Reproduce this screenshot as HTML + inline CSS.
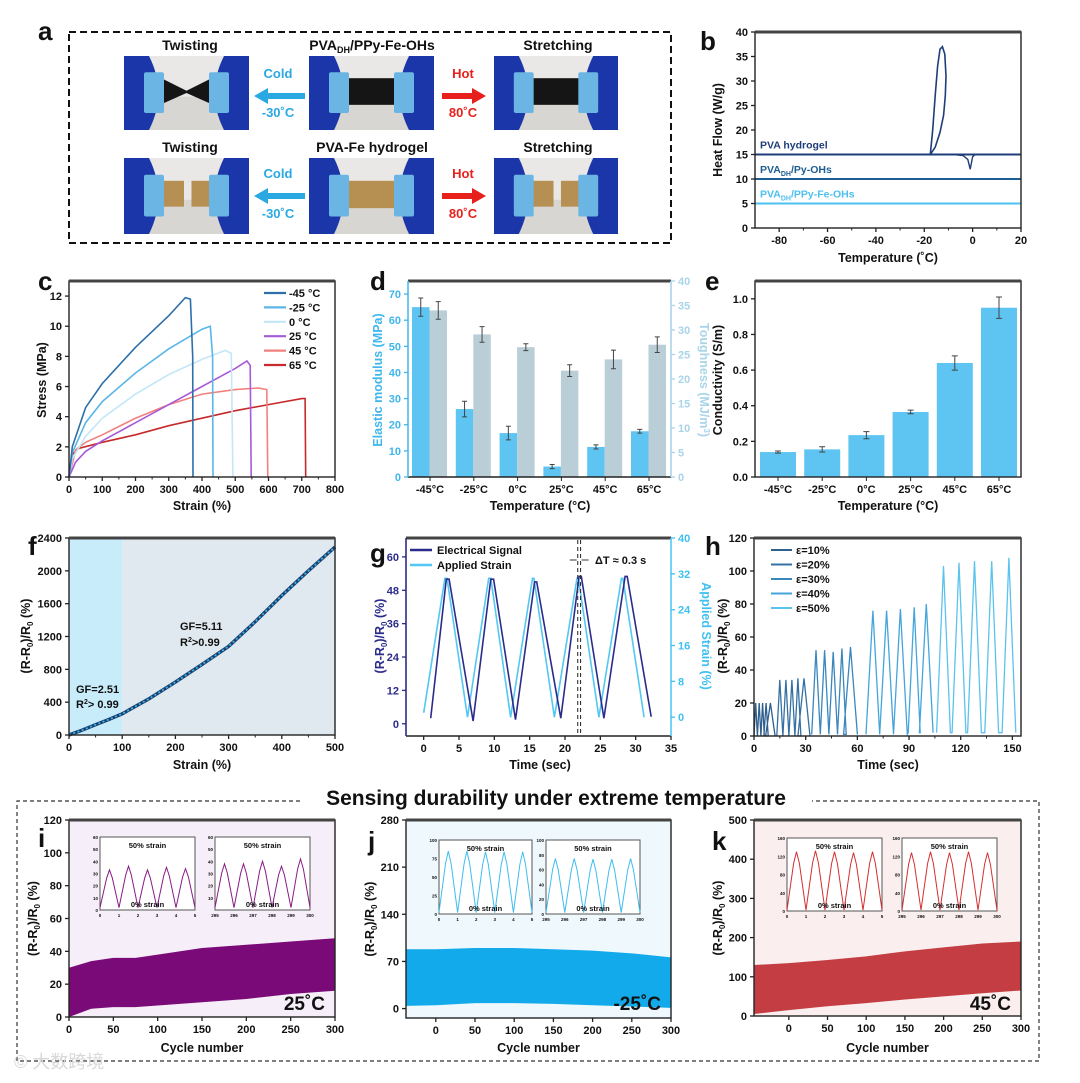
<!DOCTYPE html>
<html><head><meta charset="utf-8"><title>Figure</title>
<style>
html,body{margin:0;padding:0;background:#fff;}
svg{display:block;font-family:"Liberation Sans","Noto Sans CJK SC",sans-serif;}
text{font-weight:bold;}
</style></head>
<body>
<svg id="fig" width="1080" height="1083" viewBox="0 0 1080 1083" xmlns="http://www.w3.org/2000/svg">
<rect x="0" y="0" width="1080" height="1083" fill="#fff"/>
</svg>
<script>
// ---------- DATA ----------
const bLevels=[15,10,5];
const bNames=['PVA hydrogel','PVA_DH/Py-OHs','PVA_DH/PPy-Fe-OHs'];
const bLoopT=[-17.5,-16.5,-15.5,-14.5,-13.5,-12.5,-11.5,-11,-11.3,-12,-13.5,-15.5,-17.5];
const bLoopV=[15,20,27,33,36.5,37,35.5,31,27,23,19.5,16.5,15];
const bDipT=[-8,-4,-2,-1,0,1,3];
const bDipV=[15,14.8,14,12,14.5,15,15];
const cLabels=['-45 °C','-25 °C','0 °C','25 °C','45 °C','65 °C'];
const cStrain45m=[0,10,50,100,200,300,350,365,372,373];
const cStress45m=[0,2,4.6,6.2,8.6,10.7,11.9,11.8,8,0];
const cStrain25m=[0,10,50,100,200,300,400,425,432,433];
const cStress25m=[0,1.6,3.6,5,6.9,8.5,9.8,10,8,0];
const cStrain0=[0,10,50,100,200,300,400,470,488,493];
const cStress0=[0,1.2,2.7,3.9,5.5,6.8,7.8,8.4,8.2,0];
const cStrain25=[0,20,50,100,200,300,400,500,535,545,548];
const cStress25=[0,1,1.7,2.4,3.6,4.8,6,7.2,7.7,7.4,0];
const cStrain45=[0,20,50,100,200,300,400,500,570,595,598];
const cStress45=[0,1.8,2.3,2.8,3.9,4.8,5.5,5.8,5.9,5.8,0];
const cStrain65=[0,10,30,100,200,300,400,500,600,700,710,712];
const cStress65=[0,1.5,1.9,2.3,2.8,3.4,3.9,4.4,4.8,5.2,5.2,0];
const dCats=['-45°C','-25°C','0°C','25°C','45°C','65°C'];
const dModulus=[65,26,16.8,4,11.5,17.5];
const dModErr=[3.5,3,2.6,0.8,0.8,0.7];
const dTough=[34,29.1,26.5,21.7,24,27];
const dToughErr=[1.8,1.6,0.7,1.2,1.9,1.6];
const eCats=['-45°C','-25°C','0°C','25°C','45°C','65°C'];
const eCond=[0.14,0.155,0.235,0.365,0.64,0.95];
const eErr=[0.006,0.015,0.02,0.01,0.04,0.06];
const fStrain=[0,25,50,75,100,150,200,250,300,350,400,450,500];
const fResp=[0,60,125,190,258,440,645,860,1080,1380,1700,2000,2290];
const gElecT=[1,3.2,3.6,7,9.5,9.9,13,15.7,16,19.4,22,22.3,25.5,28.5,28.8,32.2];
const gElecV=[2,52,52,1,52,52,1.5,51,51,2,53,53,2,53,53,2.5];
const gStrainT=[0,3,3.3,6.2,9.2,9.5,12.3,15.4,15.6,18.5,21.7,21.9,24.8,28,28.2,31.2];
const gStrainV=[1,31,31,0,31,31,0,31,31,0,31,31,0,31,31,0];
const hLegend=['ε=10%','ε=20%','ε=30%','ε=40%','ε=50%'];
const hPeakT=[1,3,5,7,9.5, 15,18.5,22,25.5,29, 36,41,46,51,56, 69,77,85,93,100, 110,119,128,138,148];
const hPeakV=[20,20,20,20,20, 34,34,34,35,35, 52,52,51,53,54, 76,76,77,78,80, 103,105,106,106,108];
const hValleyV=[0,0,0,0,0, 0,0,0,0,0, 1,1,1,1,1, 1,1,1,2,2, 2,2,2,2,2];
const iCycle=[0,25,50,75,100,150,200,250,300];
const iTop=[30,34,36,36,38,42,44,46,48];
const iBot=[0,5,6,6,7,9,11,14,16];
const jCycle=[-38,0,50,100,150,200,250,300];
const jTop=[88,88,90,90,88,86,82,76];
const jBot=[4,5,8,8,7,5,3,1];
const kCycle=[-45,0,50,100,150,200,250,300];
const kTop=[130,135,143,152,165,175,185,190];
const kBot=[5,15,25,33,42,50,58,65];
const insetPeaksI=[33,36,33,35,34];
const insetPeaksI2=[38,38,40,36,42];
const insetPeaksJ=[85,85,84,84,84];
const insetPeaksJ2=[75,75,74,74,75];
const insetPeaksK=[130,132,130,128,130];
const insetPeaksK2=[128,130,128,130,128];

// ---------- HELPERS ----------
const NS='http://www.w3.org/2000/svg';
const svg=document.getElementById('fig');
function mk(tag,attrs,name,parent){
  const e=document.createElementNS(NS,tag);
  for(const k in attrs) e.setAttribute(k,attrs[k]);
  
  
  (parent||svg).appendChild(e); return e;
}
function T(x,y,s,size,name,opt){
  opt=opt||{};
  const a={x:x,y:y,'font-size':size,fill:opt.fill||'#111','text-anchor':opt.anchor||'middle'};
  if(opt.rot) a.transform='rotate('+opt.rot+' '+x+' '+y+')';
  if(opt.style) a.style=opt.style;
  const e=mk('text',a,name,opt.parent);
  e.textContent=s; return e;
}
function lin(d0,d1,r0,r1){return v=>r0+(v-d0)*(r1-r0)/(d1-d0);}
function frame(x0,y0,x1,y1,name){
  mk('rect',{x:x0,y:y0,width:x1-x0,height:y1-y0,fill:'none',stroke:'#222','stroke-width':1.4},name+'-frame');
  mk('line',{x1:x0,y1:y0,x2:x1,y2:y0,stroke:'#444','stroke-width':3},name+'-top-border');
}
function xTicks(sx,vals,labels,y,name,minor){
  vals.forEach((v,i)=>{
    mk('line',{x1:sx(v),x2:sx(v),y1:y,y2:y+4,stroke:'#222','stroke-width':1.3},name+'-xtick');
    T(sx(v),y+16,labels[i],11,name+'-xtick-label');
  });
  if(minor) minor.forEach(v=>mk('line',{x1:sx(v),x2:sx(v),y1:y,y2:y+2.5,stroke:'#222','stroke-width':1},name+'-xminor'));
}
function yTicks(sy,vals,labels,x,name,opt){
  opt=opt||{};
  const dir=opt.right?1:-1;
  vals.forEach((v,i)=>{
    mk('line',{x1:x,x2:x+4*dir,y1:sy(v),y2:sy(v),stroke:opt.color||'#222','stroke-width':1.3},name+'-ytick');
    T(x+7*dir,sy(v)+4,labels[i],11,name+'-ytick-label',{anchor:opt.right?'start':'end',fill:opt.color||'#111'});
  });
}
function pathFrom(xs,ys,sx,sy){return xs.map((v,i)=>(i?'L':'M')+sx(v).toFixed(1)+' '+sy(ys[i]).toFixed(1)).join(' ');}
function letter(x,y,s){T(x,y,s,26,'panel-label-'+s,{anchor:'start'});}

// ---------- PANEL A ----------
letter(38,40,'a');
mk('rect',{x:69,y:32,width:602,height:211,fill:'none',stroke:'#111','stroke-width':2,'stroke-dasharray':'7,4'},'panel-a-dashed-box');
function photo(x,y,w,h,kind,name){
  const g=mk('g',{},name);
  mk('rect',{x:x,y:y,width:w,height:h,fill:'#e9e8e6'},name+'-bg',g);
  mk('rect',{x:x,y:y+h*0.55,width:w,height:h*0.45,fill:'#d7d6d3'},name+'-table',g);
  const strip = kind.indexOf('fe')>=0 ? '#b68f52' : '#151515';
  if(kind.indexOf('twist')>=0){
    mk('path',{d:`M${x+w*0.3} ${y+h*0.3} L${x+w*0.5} ${y+h*0.47} L${x+w*0.7} ${y+h*0.3} L${x+w*0.7} ${y+h*0.65} L${x+w*0.5} ${y+h*0.5} L${x+w*0.3} ${y+h*0.65}Z`,fill:strip},name+'-strip',g);
  } else if(kind.indexOf('break')>=0){
    mk('rect',{x:x+w*0.28,y:y+h*0.3,width:w*0.2,height:h*0.34,fill:strip},name+'-strip',g);
    mk('rect',{x:x+w*0.54,y:y+h*0.3,width:w*0.18,height:h*0.34,fill:strip},name+'-strip2',g);
  } else {
    mk('rect',{x:x+w*0.28,y:y+h*0.3,width:w*0.44,height:h*0.36,fill:strip},name+'-strip',g);
  }
  mk('path',{d:`M${x} ${y} L${x+w*0.2} ${y} Q${x+w*0.35} ${y+h*0.5} ${x+w*0.2} ${y+h} L${x} ${y+h}Z`,fill:'#1b36a8'},name+'-left-glove',g);
  mk('path',{d:`M${x+w} ${y} L${x+w*0.8} ${y} Q${x+w*0.65} ${y+h*0.5} ${x+w*0.8} ${y+h} L${x+w} ${y+h}Z`,fill:'#1b36a8'},name+'-right-glove',g);
  mk('rect',{x:x+w*0.16,y:y+h*0.22,width:w*0.16,height:h*0.55,fill:'#6bb5e4',rx:2},name+'-left-clip',g);
  mk('rect',{x:x+w*0.68,y:y+h*0.22,width:w*0.16,height:h*0.55,fill:'#6bb5e4',rx:2},name+'-right-clip',g);
}
photo(124,56,125,74,'twist','photo-twisting-1');
photo(309,56,125,74,'flat','photo-pristine-1');
photo(494,56,124,74,'flat','photo-stretching-1');
photo(124,158,125,76,'break-fe','photo-twisting-2');
photo(309,158,125,76,'flat-fe','photo-pristine-2');
photo(494,158,124,76,'break-fe','photo-stretching-2');
T(190,50,'Twisting',14,'header-twisting-1');
T(558,50,'Stretching',14,'header-stretching-1');
const hdr=T(372,50,'',14,'header-pva-ppy');
hdr.innerHTML='PVA<tspan font-size="9" dy="3">DH</tspan><tspan dy="-3">/PPy-Fe-OHs</tspan>';
T(190,152,'Twisting',14,'header-twisting-2');
T(372,152,'PVA-Fe hydrogel',14,'header-pva-fe');
T(558,152,'Stretching',14,'header-stretching-2');
[[0,78,96,117],[1,178,196,218]].forEach(r=>{
  T(278,r[1],'Cold',13,'cold-label',{fill:'#2aa8e2'});
  mk('path',{d:`M305 ${r[2]-3} L268 ${r[2]-3} L268 ${r[2]-8} L254 ${r[2]} L268 ${r[2]+8} L268 ${r[2]+3} L305 ${r[2]+3}Z`,fill:'#2aa8e2'},'cold-arrow');
  T(278,r[3],'-30˚C',13,'cold-temp',{fill:'#2aa8e2'});
  T(463,r[1],'Hot',13,'hot-label',{fill:'#e8201c'});
  mk('path',{d:`M442 ${r[2]-3} L472 ${r[2]-3} L472 ${r[2]-8} L486 ${r[2]} L472 ${r[2]+8} L472 ${r[2]+3} L442 ${r[2]+3}Z`,fill:'#e8201c'},'hot-arrow');
  T(463,r[3],'80˚C',13,'hot-temp',{fill:'#e8201c'});
});

// ---------- PANEL B ----------
letter(700,50,'b');
{
  const sx=lin(-90,20,755,1021), sy=lin(0,40,228,32);
  const cols=['#1f3d7a','#1f5e92','#4cc0ee'];
  bLevels.forEach((v,i)=>{
    mk('line',{x1:sx(-90),x2:sx(20),y1:sy(v),y2:sy(v),stroke:cols[i],'stroke-width':2},'b-line-'+i);
  });
  mk('path',{d:pathFrom(bLoopT,bLoopV,sx,sy),fill:'none',stroke:'#1f3d7a','stroke-width':1.6},'b-crystallization-peak');
  mk('path',{d:pathFrom(bDipT,bDipV,sx,sy),fill:'none',stroke:'#1f3d7a','stroke-width':1.4},'b-melting-dip');
  T(760,sy(15)-6,'PVA hydrogel',10.5,'b-label-pva',{anchor:'start',fill:cols[0]});
  const l1=T(760,sy(10)-6,'',10.5,'b-label-py',{anchor:'start',fill:cols[1]});
  l1.innerHTML='PVA<tspan font-size="7" dy="3">DH</tspan><tspan dy="-3">/Py-OHs</tspan>';
  const l2=T(760,sy(5)-6,'',10.5,'b-label-ppy',{anchor:'start',fill:cols[2]});
  l2.innerHTML='PVA<tspan font-size="7" dy="3">DH</tspan><tspan dy="-3">/PPy-Fe-OHs</tspan>';
  frame(755,32,1021,228,'b');
  xTicks(sx,[-80,-60,-40,-20,0,20],['-80','-60','-40','-20','0','20'],228,'b',[-70,-50,-30,-10,10]);
  yTicks(sy,[0,5,10,15,20,25,30,35,40],['0','5','10','15','20','25','30','35','40'],755,'b');
  T(888,262,'Temperature (˚C)',12.5,'b-x-title');
  T(722,130,'Heat Flow (W/g)',12.5,'b-y-title',{rot:-90});
}

// ---------- PANEL C ----------
letter(38,290,'c');
{
  const sx=lin(0,800,69,335), sy=lin(0,13,477,281);
  const xs=[cStrain45m,cStrain25m,cStrain0,cStrain25,cStrain45,cStrain65];
  const ys=[cStress45m,cStress25m,cStress0,cStress25,cStress45,cStress65];
  const cols=['#2c6fa9','#5bb6e8','#c3e7f8','#a65ad8','#f2807e','#c62a2a'];
  [5,4,3,2,1,0].forEach(i=>mk('path',{d:pathFrom(xs[i],ys[i],sx,sy),fill:'none',stroke:cols[i],'stroke-width':1.6},'c-curve-'+cLabels[i]));
  cLabels.forEach((l,i)=>{
    const y=293+i*14.4;
    mk('line',{x1:264,x2:286,y1:y,y2:y,stroke:cols[i],'stroke-width':2.2},'c-legend-swatch');
    T(289,y+4,l,11,'c-legend-entry',{anchor:'start'});
  });
  frame(69,281,335,477,'c');
  xTicks(sx,[0,100,200,300,400,500,600,700,800],['0','100','200','300','400','500','600','700','800'],477,'c',[50,150,250,350,450,550,650,750]);
  yTicks(sy,[0,2,4,6,8,10,12],['0','2','4','6','8','10','12'],69,'c');
  T(202,510,'Strain (%)',12.5,'c-x-title');
  T(46,380,'Stress (MPa)',12.5,'c-y-title',{rot:-90});
}

// ---------- PANEL D ----------
letter(370,290,'d');
{
  const sy=lin(0,75,477,281), syR=lin(0,40,477,281);
  const cx=i=>430+i*43.8;
  dCats.forEach((c,i)=>{
    const x=cx(i);
    mk('rect',{x:x-18,y:sy(dModulus[i]),width:17.5,height:477-sy(dModulus[i]),fill:'#5ec4f1'},'d-modulus-bar');
    mk('rect',{x:x-0.5,y:syR(dTough[i]),width:17.5,height:477-syR(dTough[i]),fill:'#b9ced7'},'d-toughness-bar');
    const ex=x-9.25, et=sy(dModulus[i]+dModErr[i]), eb=sy(dModulus[i]-dModErr[i]);
    mk('path',{d:`M${ex} ${et} V${eb} M${ex-2.5} ${et} H${ex+2.5} M${ex-2.5} ${eb} H${ex+2.5}`,stroke:'#444','stroke-width':1,fill:'none'},'d-modulus-error');
    const tx=x+8.25, tt=syR(dTough[i]+dToughErr[i]), tb=syR(dTough[i]-dToughErr[i]);
    mk('path',{d:`M${tx} ${tt} V${tb} M${tx-2.5} ${tt} H${tx+2.5} M${tx-2.5} ${tb} H${tx+2.5}`,stroke:'#444','stroke-width':1,fill:'none'},'d-toughness-error');
    mk('line',{x1:x,x2:x,y1:477,y2:481,stroke:'#222'},'d-xtick');
    T(x,493,c,11,'d-xtick-label');
  });
  mk('line',{x1:408,x2:671,y1:477,y2:477,stroke:'#222','stroke-width':1.4},'d-x-axis');
  mk('line',{x1:408,x2:671,y1:281,y2:281,stroke:'#444','stroke-width':3},'d-top-border');
  mk('line',{x1:408,x2:408,y1:281,y2:477,stroke:'#4cbcee','stroke-width':1.6},'d-left-axis');
  mk('line',{x1:671,x2:671,y1:281,y2:477,stroke:'#a9d4ea','stroke-width':1.6},'d-right-axis');
  yTicks(sy,[0,10,20,30,40,50,60,70],['0','10','20','30','40','50','60','70'],408,'d',{color:'#3fb6ec'});
  yTicks(syR,[0,5,10,15,20,25,30,35,40],['0','5','10','15','20','25','30','35','40'],671,'d-right',{right:true,color:'#a9d4ea'});
  T(540,510,'Temperature (°C)',12.5,'d-x-title');
  T(382,380,'Elastic modulus (MPa)',12.5,'d-y-title',{rot:-90,fill:'#3fb6ec'});
  const rt=T(700,380,'',12.5,'d-y-right-title',{rot:90,fill:'#a9d4ea'});
  rt.innerHTML='Toughness (MJ/m<tspan font-size="8" dy="-4">3</tspan><tspan dy="4">)</tspan>';
}

// ---------- PANEL E ----------
letter(705,290,'e');
{
  const sy=lin(0,1.1,477,281);
  const cx=i=>778+i*44.2;
  eCats.forEach((c,i)=>{
    const x=cx(i);
    mk('rect',{x:x-18,y:sy(eCond[i]),width:36,height:477-sy(eCond[i]),fill:'#5ec4f1'},'e-conductivity-bar');
    const t=sy(eCond[i]+eErr[i]), b=sy(eCond[i]-eErr[i]);
    mk('path',{d:`M${x} ${t} V${b} M${x-3} ${t} H${x+3} M${x-3} ${b} H${x+3}`,stroke:'#444','stroke-width':1,fill:'none'},'e-error-bar');
    mk('line',{x1:x,x2:x,y1:477,y2:481,stroke:'#222'},'e-xtick');
    T(x,493,c,11,'e-xtick-label');
  });
  frame(755,281,1021,477,'e');
  yTicks(sy,[0,0.2,0.4,0.6,0.8,1.0],['0.0','0.2','0.4','0.6','0.8','1.0'],755,'e');
  T(888,510,'Temperature (°C)',12.5,'e-x-title');
  T(722,380,'Conductivity (S/m)',12.5,'e-y-title',{rot:-90});
}

// ---------- PANEL F ----------
letter(28,555,'f');
{
  const sx=lin(0,500,69,335), sy=lin(0,2400,735,538);
  mk('rect',{x:sx(0),y:538,width:sx(100)-sx(0),height:197,fill:'#c9ecfb'},'f-region-low');
  mk('rect',{x:sx(100),y:538,width:sx(500)-sx(100),height:197,fill:'#dfe9ef'},'f-region-high');
  mk('path',{d:pathFrom(fStrain,fResp,sx,sy),fill:'none',stroke:'#1d3f6e','stroke-width':3.4},'f-fit-curve');
  mk('path',{d:pathFrom(fStrain,fResp,sx,sy),fill:'none',stroke:'#33b6e8','stroke-width':1.8,'stroke-dasharray':'2,2.5'},'f-data-points');
  frame(69,538,335,735,'f');
  xTicks(sx,[0,100,200,300,400,500],['0','100','200','300','400','500'],735,'f',[50,150,250,350,450]);
  yTicks(sy,[0,400,800,1200,1600,2000,2400],['0','400','800','1200','1600','2000','2400'],69,'f');
  T(76,693,'GF=2.51',11,'f-gf-low',{anchor:'start'});
  const r1=T(76,708,'',11,'f-r2-low',{anchor:'start'});
  r1.innerHTML='R<tspan font-size="7" dy="-4">2</tspan><tspan dy="4">&gt; 0.99</tspan>';
  T(180,630,'GF=5.11',11,'f-gf-high',{anchor:'start'});
  const r2=T(180,646,'',11,'f-r2-high',{anchor:'start'});
  r2.innerHTML='R<tspan font-size="7" dy="-4">2</tspan><tspan dy="4">&gt;0.99</tspan>';
  T(202,769,'Strain (%)',12.5,'f-x-title');
  const yt=T(30,636,'',12.5,'f-y-title',{rot:-90});
  yt.innerHTML='(R-R<tspan font-size="8" dy="3">0</tspan><tspan dy="-3">)/R</tspan><tspan font-size="8" dy="3">0</tspan><tspan dy="-3"> (%)</tspan>';
}

// ---------- PANEL G ----------
letter(370,562,'g');
{
  const sx=lin(-2.5,35,406,671), sy=lin(-4.4,66.8,736,538), syR=lin(-4.2,40,736,538);
  mk('path',{d:pathFrom(gStrainT,gStrainV,sx,syR),fill:'none',stroke:'#52c8f2','stroke-width':1.6},'g-applied-strain');
  mk('path',{d:pathFrom(gElecT,gElecV,sx,sy),fill:'none',stroke:'#2b2b8c','stroke-width':1.6},'g-electrical-signal');
  [21.8,22.2].forEach(t=>mk('line',{x1:sx(t),x2:sx(t),y1:540,y2:736,stroke:'#333','stroke-width':1.1,'stroke-dasharray':'4,3'},'g-delay-marker'));
  mk('path',{d:`M${sx(21.8)-8} 560 L${sx(21.8)-1} 560 M${sx(22.2)+8} 560 L${sx(22.2)+1} 560`,stroke:'#333','stroke-width':1},'g-delay-arrows');
  T(595,564,'ΔT ≈ 0.3 s',11,'g-delta-t-label',{anchor:'start'});
  mk('line',{x1:410,x2:432,y1:550,y2:550,stroke:'#2b2b8c','stroke-width':2.5},'g-legend-swatch-electrical');
  T(437,554,'Electrical Signal',11,'g-legend-electrical',{anchor:'start'});
  mk('line',{x1:410,x2:432,y1:565,y2:565,stroke:'#52c8f2','stroke-width':2.5},'g-legend-swatch-strain');
  T(437,569,'Applied Strain',11,'g-legend-strain',{anchor:'start'});
  mk('line',{x1:406,x2:671,y1:736,y2:736,stroke:'#222','stroke-width':1.4},'g-x-axis');
  mk('line',{x1:406,x2:671,y1:538,y2:538,stroke:'#444','stroke-width':3},'g-top-border');
  mk('line',{x1:406,x2:406,y1:538,y2:736,stroke:'#2b2b8c','stroke-width':1.6},'g-left-axis');
  mk('line',{x1:671,x2:671,y1:538,y2:736,stroke:'#52c8f2','stroke-width':1.6},'g-right-axis');
  xTicks(sx,[0,5,10,15,20,25,30,35],['0','5','10','15','20','25','30','35'],736,'g');
  yTicks(sy,[0,12,24,36,48,60],['0','12','24','36','48','60'],406,'g',{color:'#2b2b8c'});
  yTicks(syR,[0,8,16,24,32,40],['0','8','16','24','32','40'],671,'g-right',{right:true,color:'#3fc0f0'});
  T(540,769,'Time (sec)',12.5,'g-x-title');
  const yt=T(384,636,'',12.5,'g-y-title',{rot:-90,fill:'#2b2b8c'});
  yt.innerHTML='(R-R<tspan font-size="8" dy="3">0</tspan><tspan dy="-3">)/R</tspan><tspan font-size="8" dy="3">0</tspan><tspan dy="-3"> (%)</tspan>';
  T(702,636,'Applied Strain (%)',12.5,'g-y-right-title',{rot:90,fill:'#3fc0f0'});
}

// ---------- PANEL H ----------
letter(705,555,'h');
{
  const sx=lin(0,155,754,1021), sy=lin(0,120,736,538);
  const cols=['#2f5f8f','#3470a3','#3a86bd','#45a5da','#5cc2ee'];
  for(let g=0;g<5;g++){
    const xs=[],ys=[];
    for(let k=g*5;k<g*5+5;k++){
      const half = k+1<hPeakT.length ? Math.min((hPeakT[k+1]-hPeakT[k])/2,4) : 4;
      xs.push(hPeakT[k]-half); ys.push(hValleyV[k]);
      xs.push(hPeakT[k]); ys.push(hPeakV[k]);
      xs.push(hPeakT[k]+half); ys.push(hValleyV[k]);
    }
    mk('path',{d:pathFrom(xs,ys,sx,sy),fill:'none',stroke:cols[g],'stroke-width':1.3},'h-series-'+hLegend[g]);
  }
  hLegend.forEach((l,i)=>{
    const y=550+i*14.5;
    mk('line',{x1:771,x2:792,y1:y,y2:y,stroke:cols[i],'stroke-width':2},'h-legend-swatch');
    T(796,y+4,l,11,'h-legend-entry',{anchor:'start'});
  });
  frame(754,538,1021,736,'h');
  xTicks(sx,[0,30,60,90,120,150],['0','30','60','90','120','150'],736,'h',[15,45,75,105,135]);
  yTicks(sy,[0,20,40,60,80,100,120],['0','20','40','60','80','100','120'],754,'h');
  T(888,769,'Time (sec)',12.5,'h-x-title');
  const yt=T(727,636,'',12.5,'h-y-title',{rot:-90});
  yt.innerHTML='(R-R<tspan font-size="8" dy="3">0</tspan><tspan dy="-3">)/R</tspan><tspan font-size="8" dy="3">0</tspan><tspan dy="-3"> (%)</tspan>';
}

// ---------- DURABILITY SECTION ----------
mk('path',{d:'M300 801 H17 V1061 H1039 V801 H812',fill:'none',stroke:'#333','stroke-width':1.2,'stroke-dasharray':'4,3'},'durability-dashed-box');
T(556,805,'Sensing durability under extreme temperature',21,'durability-title');

function inset(x,y,w,h,peaks,ymax,ticks,xlabels,color,name){
  const sx=lin(0,5,x,x+w), sy=lin(0,ymax,y+h,y);
  mk('rect',{x:x,y:y,width:w,height:h,fill:'#fff',stroke:'#555','stroke-width':1},name+'-frame');
  const xs=[0],ys=[2];
  peaks.forEach((p,i)=>{ xs.push(i+0.35,i+0.5,i+0.65,i+1); ys.push(p*0.8,p,p*0.8,2); });
  mk('path',{d:pathFrom(xs,ys,sx,sy),fill:'none',stroke:color,'stroke-width':1},name+'-signal');
  T(x+w/2,y+11,'50% strain',7.5,name+'-label-top');
  T(x+w/2,y+h-3,'0% strain',7.5,name+'-label-bottom');
  ticks.forEach(v=>T(x-2,sy(v)+2,String(v),4.5,name+'-ytick-label',{anchor:'end'}));
  xlabels.forEach((l,i)=>T(sx(i),y+h+7,l,4.5,name+'-xtick-label'));
}
const xl1=['0','1','2','3','4','5'], xl2=['295','296','297','298','299','300'];

function durability(o){
  const sx=lin(o.xd[0],o.xd[1],o.x0,o.x1), sy=lin(o.yd[0],o.yd[1],o.y1,o.y0);
  mk('rect',{x:o.x0,y:o.y0,width:o.x1-o.x0,height:o.y1-o.y0,fill:o.bg},o.n+'-background');
  const pts=o.cyc.map((c,i)=>sx(c)+','+sy(o.top[i])).concat(o.cyc.slice().reverse().map((c,i)=>sx(c)+','+sy(o.bot[o.cyc.length-1-i])));
  mk('polygon',{points:pts.join(' '),fill:o.color},o.n+'-signal-band');
  frame(o.x0,o.y0,o.x1,o.y1,o.n);
  xTicks(sx,[0,50,100,150,200,250,300],['0','50','100','150','200','250','300'],o.y1,o.n);
  yTicks(sy,o.yt,o.yt.map(String),o.x0,o.n);
  T((o.x0+o.x1)/2,1052,'Cycle number',12.5,o.n+'-x-title');
  const yt=T(o.x0-32,(o.y0+o.y1)/2,'',12.5,o.n+'-y-title',{rot:-90});
  yt.innerHTML='(R-R<tspan font-size="8" dy="3">0</tspan><tspan dy="-3">)/R</tspan><tspan font-size="8" dy="3">0</tspan><tspan dy="-3"> (%)</tspan>';
  T(o.x1-10,1010,o.temp,19,o.n+'-temperature-label',{anchor:'end'});
}
letter(38,847,'i');
durability({n:'i',x0:69,x1:335,y0:820,y1:1017,xd:[0,300],yd:[0,120],cyc:iCycle,top:iTop,bot:iBot,color:'#7b0a79',bg:'#f6eef8',yt:[0,20,40,60,80,100,120],temp:'25˚C'});
inset(100,837,95,73,insetPeaksI,60,[0,10,20,30,40,50,60],xl1,'#8a1a88','i-inset-start');
inset(215,837,95,73,insetPeaksI2,60,[10,20,30,40,50,60],xl2,'#8a1a88','i-inset-end');
letter(368,850,'j');
durability({n:'j',x0:406,x1:671,y0:820,y1:1018,xd:[-38,300],yd:[-14,280],cyc:jCycle,top:jTop,bot:jBot,color:'#12aaea',bg:'#eef8fd',yt:[0,70,140,210,280],temp:'-25˚C'});
inset(439,840,93,74,insetPeaksJ,100,[0,25,50,75,100],xl1,'#3dbdf0','j-inset-start');
inset(546,840,94,74,insetPeaksJ2,100,[0,20,40,60,80,100],xl2,'#3dbdf0','j-inset-end');
letter(712,850,'k');
durability({n:'k',x0:754,x1:1021,y0:820,y1:1016,xd:[-45,300],yd:[0,500],cyc:kCycle,top:kTop,bot:kBot,color:'#c43d42',bg:'#fbeeee',yt:[0,100,200,300,400,500],temp:'45˚C'});
inset(787,838,95,73,insetPeaksK,160,[0,40,80,120,160],xl1,'#d42f30','k-inset-start');
inset(902,838,95,73,insetPeaksK2,160,[0,40,80,120,160],xl2,'#d42f30','k-inset-end');

T(14,1068,'© 大数跨境',18,'watermark',{anchor:'start',fill:'#d8d8d8',style:'font-weight:normal'});
</script>
</body></html>
